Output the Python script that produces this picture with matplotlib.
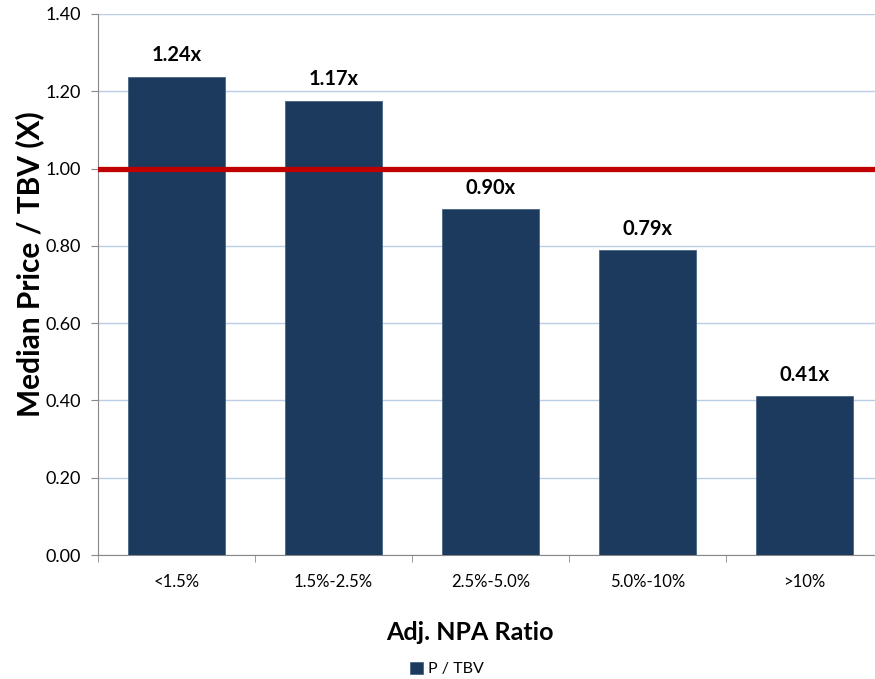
import numpy as np
import matplotlib
matplotlib.use('Agg')
import matplotlib.pyplot as plt

plt.rcParams['font.family'] = ['Lato', 'DejaVu Sans']

categories = ['<1.5%', '1.5%-2.5%', '2.5%-5.0%', '5.0%-10%', '>10%']
p_tbv = [1.237, 1.175, 0.895, 0.789, 0.411]
bar_labels = ['1.24x', '1.17x', '0.90x', '0.79x', '0.41x']
reference_level = 1.0

W, H = 875, 679
fig = plt.figure(figsize=(W / 100, H / 100), dpi=100)
# plot area: left 98px, top 14px, bottom 555px, right 883px (cropped in image)
ax = fig.add_axes([98 / W, 1 - 555 / H, (883 - 98) / W, (555 - 14) / H])

x = np.arange(len(categories))
ax.bar(x, p_tbv, width=0.62, color='#1b3a5e', edgecolor='#4a6585', linewidth=0.6,
       zorder=3, label='P / TBV')
for xi, v, lab in zip(x, p_tbv, bar_labels):
    ax.text(xi, v + 0.03, lab, ha='center', va='bottom', fontsize=14.5,
            fontweight='bold', color='black')

ax.axhline(reference_level, color='#c00000', lw=3.8, zorder=4)

ax.set_xlim(-0.5, len(categories) - 0.5)
ax.set_ylim(0, 1.4)
ax.set_yticks(np.arange(0, 1.41, 0.2))
ax.set_yticklabels(['%.2f' % t for t in np.arange(0, 1.41, 0.2)], fontsize=13)
ax.set_xticks(x)
ax.set_xticklabels(categories, fontsize=12)
ax.set_xticks(np.arange(-0.5, len(categories)), minor=True)
ax.tick_params(axis='x', which='major', length=0, pad=14)
ax.tick_params(axis='x', which='minor', length=5, color='#888888')
ax.tick_params(axis='y', length=5, color='#888888', pad=7)

ax.grid(axis='y', color='#b9cde5', lw=1, zorder=0)
for s in ['top', 'right']:
    ax.spines[s].set_visible(False)
for s in ['left', 'bottom']:
    ax.spines[s].set_color('#888888')

ax.set_ylabel('Median Price / TBV (X)', fontsize=21.5, fontweight='bold')
ax.yaxis.set_label_coords(-(98 - 44) / (883 - 98), (555 - 264) / (555 - 14))
fig.text(470 / W, 1 - 632 / H, 'Adj. NPA Ratio', ha='center', va='center',
         fontsize=18, fontweight='bold')

handles, labels = ax.get_legend_handles_labels()
fig.legend(handles, labels, loc='center', bbox_to_anchor=(447 / W, 1 - 669 / H),
           frameon=False, fontsize=11.5, handlelength=0.8, handleheight=0.8,
           handletextpad=0.3)

fig.savefig('out.png', dpi=100)
